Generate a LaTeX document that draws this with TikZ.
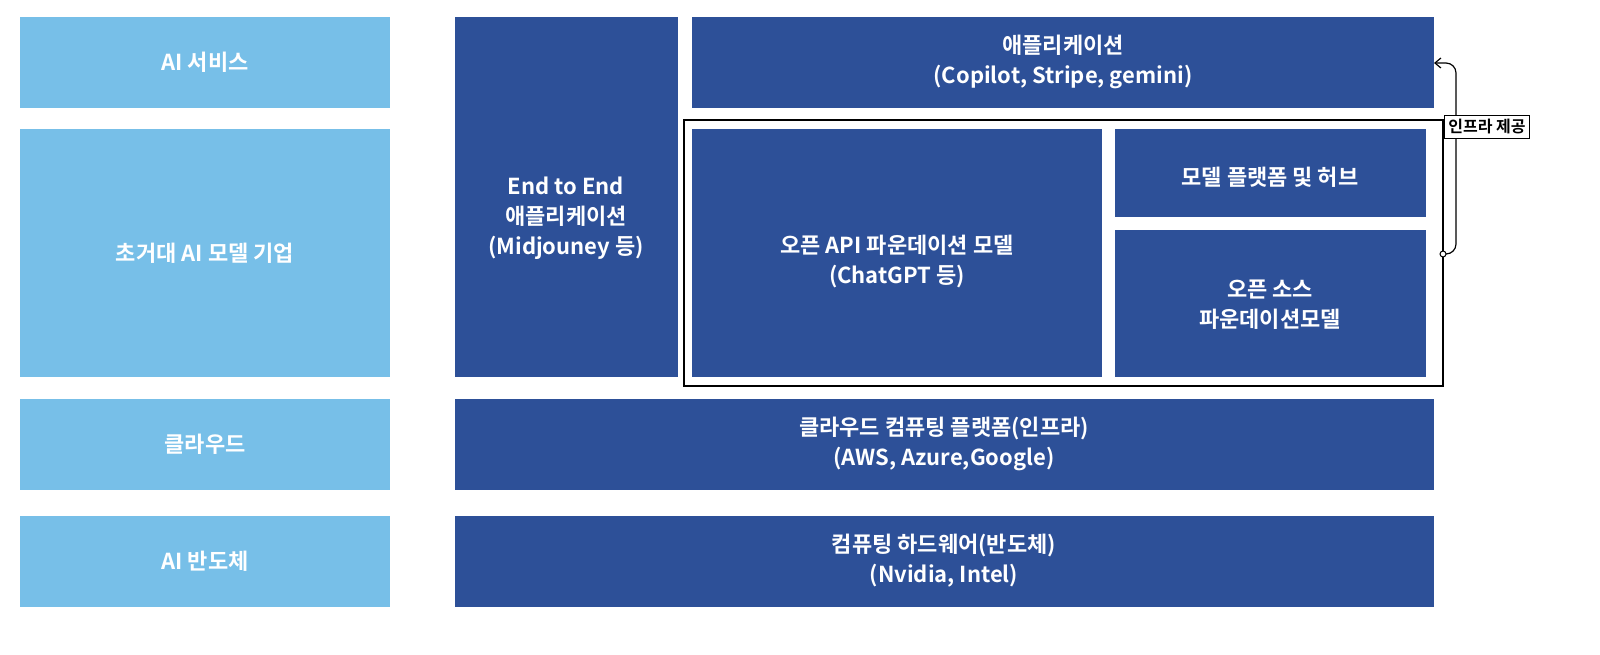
\documentclass[tikz,border=0pt]{standalone}
\usepackage{fontspec}
\setmainfont{Noto Sans CJK KR}[BoldFont={* Bold}]
\usetikzlibrary{arrows.meta}
\definecolor{lb}{HTML}{77BFE8}
\definecolor{db}{HTML}{2D5098}
\begin{document}
\begin{tikzpicture}[x=1pt,y=-1pt,
  txt/.style={text=white,font=\fontsize{22}{30}\selectfont\bfseries,align=center}]
% left
\fill[lb] (20,17) rectangle (390,108); \node[txt] (l1) at (205,62) {AI 서비스};
\fill[lb] (20,129) rectangle (390,377); \node[txt] (l2) at (205,253) {초거대 AI 모델 기업};
\fill[lb] (20,399) rectangle (390,490); \node[txt] (l3) at (205,444) {클라우드};
\fill[lb] (20,516) rectangle (390,607); \node[txt] (l4) at (205,561) {AI 반도체};
% dark
\fill[db] (455,17) rectangle (678,377); \node[txt] (e2e) at (566,218) {End to End\\애플리케이션\\(Midjouney 등)};
\fill[db] (692,17) rectangle (1434,108); \node[txt] (app) at (1063,62) {애플리케이션\\(Copilot, Stripe, gemini)};
\fill[db] (692,129) rectangle (1102,377); \node[txt] (api) at (897,261) {오픈 API 파운데이션 모델\\(ChatGPT 등)};
\fill[db] (1115,129) rectangle (1426,217); \node[txt] (hub) at (1270,177) {모델 플랫폼 및 허브};
\fill[db] (1115,230) rectangle (1426,377); \node[txt] (oss) at (1270,305) {오픈 소스\\파운데이션모델};
\fill[db] (455,399) rectangle (1434,490); \node[txt] (cloud) at (944,444) {클라우드 컴퓨팅 플랫폼(인프라)\\(AWS, Azure,Google)};
\fill[db] (455,516) rectangle (1434,607); \node[txt] (hw) at (944,561) {컴퓨팅 하드웨어(반도체)\\(Nvidia, Intel)};
% frame
\draw[line width=2.5pt] (684,120) rectangle (1443,386);
\coordinate (fs) at (1443,254);
\coordinate (ae) at (1434,63);
\draw[line width=1.2pt,-{Straight Barb[length=6pt,width=10pt]},rounded corners=10pt] (fs) -- (1456,254) -- (1456,63) -- (ae);
\fill[white] (fs) circle (3); \draw[line width=1pt] (fs) circle (3);
\node[draw,line width=1.2pt,fill=white,inner sep=4pt,font=\fontsize{16}{19}\selectfont\bfseries] (lab) at (1487,127) {인프라 제공};
\pgfresetboundingbox
\useasboundingbox (0,0) rectangle (1600,655);
\end{tikzpicture}
\end{document}
